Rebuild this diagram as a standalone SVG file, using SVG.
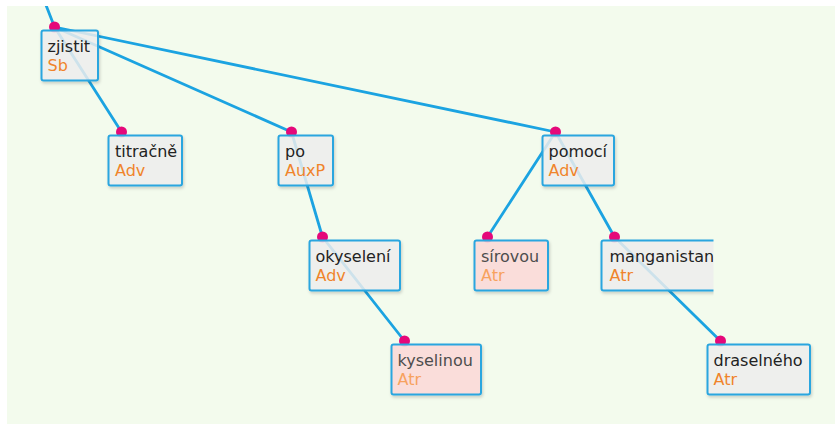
<svg xmlns="http://www.w3.org/2000/svg" width="835" height="424" viewBox="0 0 835 424">
<defs>
<style>
.bg{fill:#f3fbed}
.edge{stroke:#1ba3e1;stroke-width:2.8;fill:none;stroke-linecap:round}
.dot{fill:#e5087a}
.box{fill:#f0f0f0;fill-opacity:0.82;stroke:#2ba6df;stroke-width:2}
.box.hi{fill:#ffdada}
.form{font-family:"DejaVu Sans",sans-serif;font-size:16px;fill:#222}
.afun{font-family:"DejaVu Sans",sans-serif;font-size:16px;fill:#f0842a}
.hi-t .form{fill:#4d4d4d}
.hi-t .afun{fill:#f7a25e}
</style>
<filter id="sh" x="-10%" y="-10%" width="130%" height="140%">
<feDropShadow dx="1" dy="2" stdDeviation="1.5" flood-color="#000" flood-opacity="0.18"/>
</filter>
<clipPath id="bgclip"><rect x="7" y="6" width="828" height="418"/></clipPath>
<clipPath id="mclip"><rect x="590" y="230" width="123.5" height="70"/></clipPath>
</defs>
<rect class="bg" x="7" y="6" width="828" height="418"/>
<g id="edges" clip-path="url(#bgclip)">
<line class="edge" x1="44" y1="0" x2="54.5" y2="27"/>
<line class="edge" x1="54.5" y1="27" x2="121.5" y2="132"/>
<line class="edge" x1="54.5" y1="27" x2="291.5" y2="132"/>
<line class="edge" x1="54.5" y1="27" x2="555.5" y2="132"/>
<line class="edge" x1="291.5" y1="132" x2="322.5" y2="237"/>
<line class="edge" x1="322.5" y1="237" x2="404.5" y2="341"/>
<line class="edge" x1="555.5" y1="132" x2="487.5" y2="237"/>
<line class="edge" x1="555.5" y1="132" x2="614.5" y2="237"/>
<line class="edge" x1="614.5" y1="237" x2="720.5" y2="341"/>
</g>
<g id="n-zjistit">
<circle class="dot" cx="54.5" cy="27" r="5.5"/>
<rect class="box" x="41.5" y="30.5" width="56.5" height="50" rx="2" filter="url(#sh)"/>
<text class="form" x="47.5" y="52">zjistit</text>
<text class="afun" x="47.5" y="71">Sb</text>
</g>
<g id="n-titracne">
<circle class="dot" cx="121.5" cy="132" r="5.5"/>
<rect class="box" x="108.5" y="135.5" width="73.5" height="50" rx="2" filter="url(#sh)"/>
<text class="form" x="115" y="157">titračně</text>
<text class="afun" x="115" y="176">Adv</text>
</g>
<g id="n-po">
<circle class="dot" cx="291.5" cy="132" r="5.5"/>
<rect class="box" x="278.5" y="135.5" width="54.5" height="50" rx="2" filter="url(#sh)"/>
<text class="form" x="285" y="157">po</text>
<text class="afun" x="285" y="176">AuxP</text>
</g>
<g id="n-pomoci">
<circle class="dot" cx="555.5" cy="132" r="5.5"/>
<rect class="box" x="542.5" y="135.5" width="71.5" height="50" rx="2" filter="url(#sh)"/>
<text class="form" x="548.5" y="157">pomocí</text>
<text class="afun" x="548.5" y="176">Adv</text>
</g>
<g id="n-okyseleni">
<circle class="dot" cx="322.5" cy="237" r="5.5"/>
<rect class="box" x="309.5" y="240.5" width="90.5" height="50" rx="2" filter="url(#sh)"/>
<text class="form" x="315.5" y="262">okyselení</text>
<text class="afun" x="315.5" y="281">Adv</text>
</g>
<g id="n-sirovou" class="hi-t">
<circle class="dot" cx="487.5" cy="237" r="5.5"/>
<rect class="box hi" x="474.5" y="240.5" width="73.5" height="50" rx="2" filter="url(#sh)"/>
<text class="form" x="481" y="262">sírovou</text>
<text class="afun" x="481" y="281">Atr</text>
</g>
<g id="n-manganistan">
<circle class="dot" cx="614.5" cy="237" r="5.5"/>
<g clip-path="url(#mclip)">
<rect class="box" x="601.5" y="240.5" width="130" height="50" rx="2" filter="url(#sh)"/>
<text class="form" x="609.5" y="262">manganistan</text>
<text class="afun" x="609.5" y="281">Atr</text>
</g>
</g>
<g id="n-kyselinou" class="hi-t">
<circle class="dot" cx="404.5" cy="341" r="5.5"/>
<rect class="box hi" x="391.5" y="344.5" width="89.5" height="50" rx="2" filter="url(#sh)"/>
<text class="form" x="397.5" y="366">kyselinou</text>
<text class="afun" x="397.5" y="385">Atr</text>
</g>
<g id="n-draselneho">
<circle class="dot" cx="720.5" cy="341" r="5.5"/>
<rect class="box" x="707.5" y="344.5" width="102.5" height="50" rx="2" filter="url(#sh)"/>
<text class="form" x="713.5" y="366">draselného</text>
<text class="afun" x="713.5" y="385">Atr</text>
</g>
</svg>
